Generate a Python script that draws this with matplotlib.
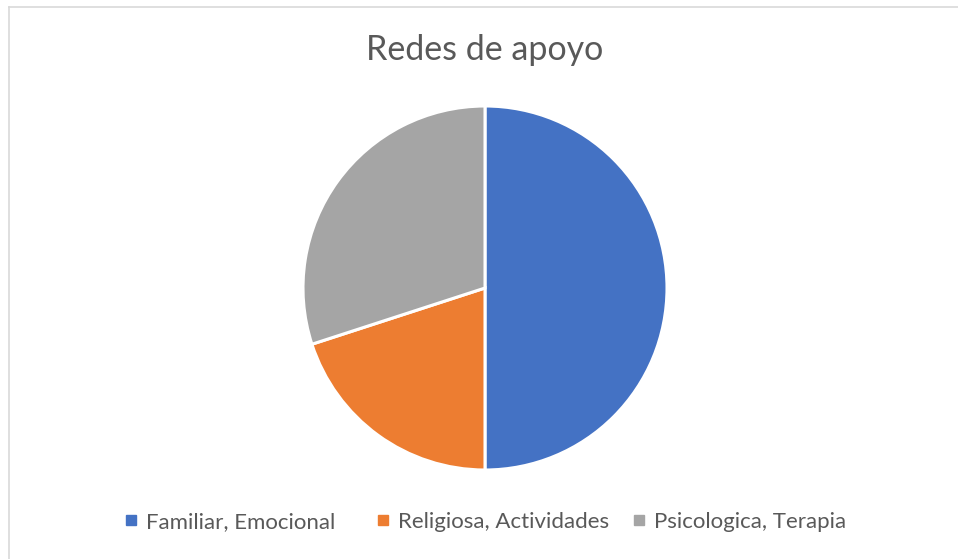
import matplotlib.pyplot as plt
from matplotlib.lines import Line2D

# Data
labels = ["Familiar, Emocional", "Religiosa, Actividades", "Psicologica, Terapia"]
values = [50, 20, 30]
colors = ["#4472C4", "#ED7D31", "#A5A5A5"]
title = "Redes de apoyo"

plt.rcParams["font.family"] = ["Lato", "DejaVu Sans"]
TEXT = "#595959"

W, H = 958, 559
fig = plt.figure(figsize=(W / 100, H / 100), dpi=100)

# pie centre (485, 288) px, radius ~182 px
cx, cy, r = 485, 288, 182
ax = fig.add_axes([(cx - r) / W, (H - cy - r) / H, 2 * r / W, 2 * r / H])
ax.pie(values, colors=colors, startangle=90, counterclock=False, radius=1,
       wedgeprops=dict(edgecolor="white", linewidth=2.2))
ax.set_xlim(-1.0, 1.0)
ax.set_ylim(-1.0, 1.0)
ax.set_aspect("equal")
ax.axis("off")

fig.text(cx / W, 1 - 50 / H, title, ha="center", va="center",
         fontsize=24.5, color=TEXT)

# legend: one entry per slot so the spacing follows the original
slot_x = [125.5, 377.5, 633.5]
for lab, c, x in zip(labels, colors, slot_x):
    h = Line2D([], [], marker="s", linestyle="none", markersize=6.5,
               markerfacecolor=c, markeredgecolor=c)
    fig.legend([h], [lab], loc="center left", bbox_to_anchor=(x / W, 1 - 522 / H),
               frameon=False, fontsize=16, labelcolor=TEXT, borderpad=0,
               borderaxespad=0, handlelength=0.5, handletextpad=0.4)

# chart frame (only left and top edges visible)
fig.add_artist(Line2D([8.5 / W, 8.5 / W], [0, 1 - 6.5 / H], color="#D9D9D9",
                      linewidth=1.2, transform=fig.transFigure))
fig.add_artist(Line2D([8.5 / W, 1], [1 - 6.5 / H, 1 - 6.5 / H], color="#D9D9D9",
                      linewidth=1.2, transform=fig.transFigure))

fig.savefig("out.png", dpi=100, facecolor="white")
